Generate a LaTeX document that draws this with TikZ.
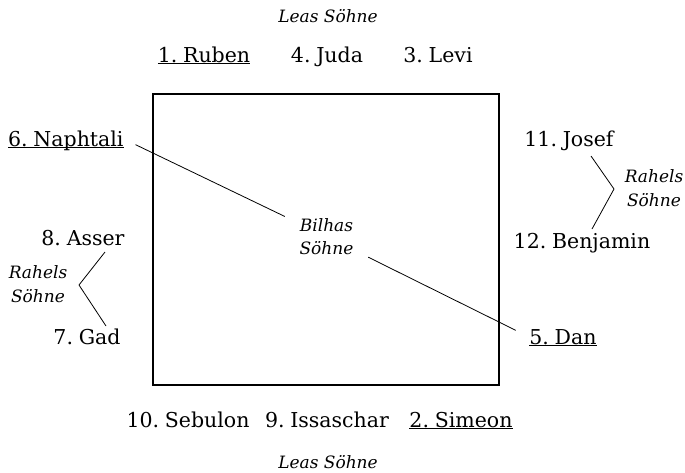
\documentclass[tikz,border=0pt]{standalone}
\usepackage{fontspec}
\setmainfont{DejaVu Serif}[UprightFeatures={WordSpace=0.55}]
\usetikzlibrary{calc}
\newcommand{\ul}[1]{\underline{\smash{#1}}}
\begin{document}
\begin{tikzpicture}[x=1pt,y=-1pt,
  son/.style={font=\fontsize{20.5}{23}\selectfont, inner sep=0pt, anchor=base},
  grp/.style={font=\fontsize{17}{23.5}\selectfont\itshape, inner sep=0pt, align=center},
  thinline/.style={line width=0.8pt, black},
  frame/.style={line width=1.8pt, black}]
\useasboundingbox (0,0) rectangle (685,472);
% frame
\node[draw, frame, minimum width=346pt, minimum height=291pt, inner sep=0pt] (box) at (326,239.5) {};
% top
\node[grp] (leastop) at (328,16) {Leas Söhne};
\node[son] (ruben) at (204,62) {\ul{1. Ruben}};
\node[son] (juda) at (327,62) {4. Juda};
\node[son] (levi) at (438,62) {3. Levi};
% left
\node[son, anchor=base west] (naph) at (8,146) {\ul{6. Naphtali}};
\node[son] (asser) at (83,245) {8. Asser};
\node[son] (gad) at (87,344) {7. Gad};
\node[grp] (rahl) at (38,284) {Rahels\\Söhne};
% right
\node[son] (josef) at (569,146) {11. Josef};
\node[son] (benj) at (582,248) {12. Benjamin};
\node[grp] (rahr) at (654,188) {Rahels\\Söhne};
\node[son] (dan) at (563,344) {\ul{5. Dan}};
% centre
\node[grp, minimum width=83pt, minimum height=46pt] (bilhas) at (326.5,236.5) {Bilhas\\Söhne};
% bottom
\node[son] (sebulon) at (188,427) {10. Sebulon};
\node[son] (issa) at (327,427) {9. Issaschar};
\node[son] (simeon) at (461,427) {\ul{2. Simeon}};
\node[grp] (leasbot) at (328,462) {Leas Söhne};
% diagonal
\draw[thinline, shorten <=13pt] ([yshift=7pt]naph.base east) -- (bilhas);
\draw[thinline, shorten >=15pt] (bilhas) -- ([yshift=7pt]dan.base west);
% brackets
\coordinate (lv) at (79,285);
\coordinate (rv) at (614,189);
\draw[thinline] ($(asser.base)+(22,7)$) -- (lv) -- ($(gad.base)+(19,-18)$);
\draw[thinline] ($(josef.base)+(22,10)$) -- (rv) -- ($(benj.base)+(10,-19)$);
\end{tikzpicture}
\end{document}
